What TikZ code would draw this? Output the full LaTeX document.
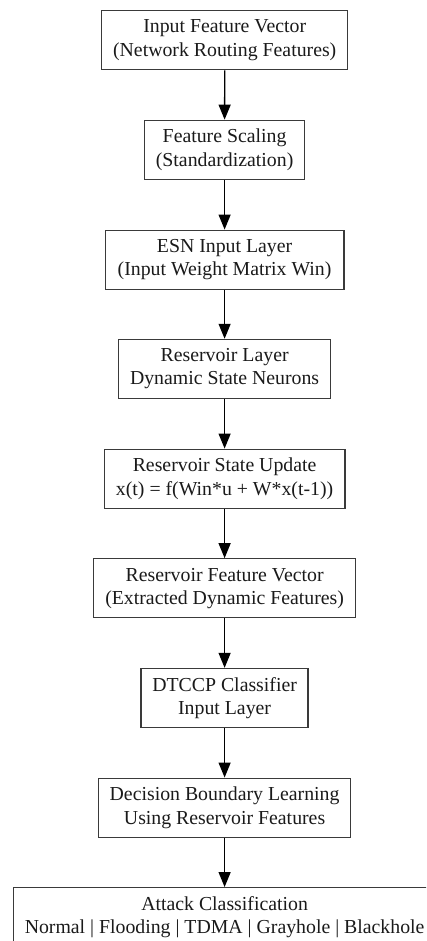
\documentclass[tikz,border=0pt]{standalone}
\usepackage{fontspec}
\setmainfont{Liberation Serif}
\usetikzlibrary{arrows.meta}
\definecolor{txt}{HTML}{1A1A1A}
\definecolor{edge}{HTML}{3A3A3A}
\begin{document}
\begin{tikzpicture}[x=1pt,y=-1pt,
  box/.style={draw=edge, line width=1.3pt, minimum height=59pt, inner sep=0pt,
    align=center, text=txt, font=\fontsize{19.8}{23.3}\selectfont},
  flow/.style={draw=black, line width=1.3pt, -{Triangle[length=15pt,width=12pt]}}]
\clip (0,0) rectangle (426,941);
\path[use as bounding box] (0,0) rectangle (426,941);
\node[box, minimum width=246pt]   (n1) at (224.7,40.3)  {Input Feature Vector\\(Network Routing Features)};
\node[box, minimum width=160.4pt] (n2) at (224.6,149.8) {Feature Scaling\\(Standardization)};
\node[box, minimum width=238.7pt] (n3) at (224.6,259.7) {ESN Input Layer\\(Input Weight Matrix Win)};
\node[box, minimum width=212.4pt] (n4) at (224.6,368.9) {Reservoir Layer\\Dynamic State Neurons};
\node[box, minimum width=240.7pt] (n5) at (224.6,478.7) {Reservoir State Update\\x(t) = f(Win*u + W*x(t-1))};
\node[box, minimum width=261.6pt] (n6) at (224.6,588.3) {Reservoir Feature Vector\\(Extracted Dynamic Features)};
\node[box, minimum width=167pt]   (n7) at (224.6,698)   {DTCCP Classifier\\Input Layer};
\node[box, minimum width=252.4pt] (n8) at (224.6,807.7) {Decision Boundary Learning\\Using Reservoir Features};
\node[box, minimum width=422.7pt] (n9) at (224.6,917.2) {Attack Classification\\Normal | Flooding | TDMA | Grayhole | Blackhole};
\foreach \a/\b in {n1/n2,n2/n3,n3/n4,n4/n5,n5/n6,n6/n7,n7/n8,n8/n9}
  \draw[flow] (\a.south) -- (\b.north);
\end{tikzpicture}
\end{document}
